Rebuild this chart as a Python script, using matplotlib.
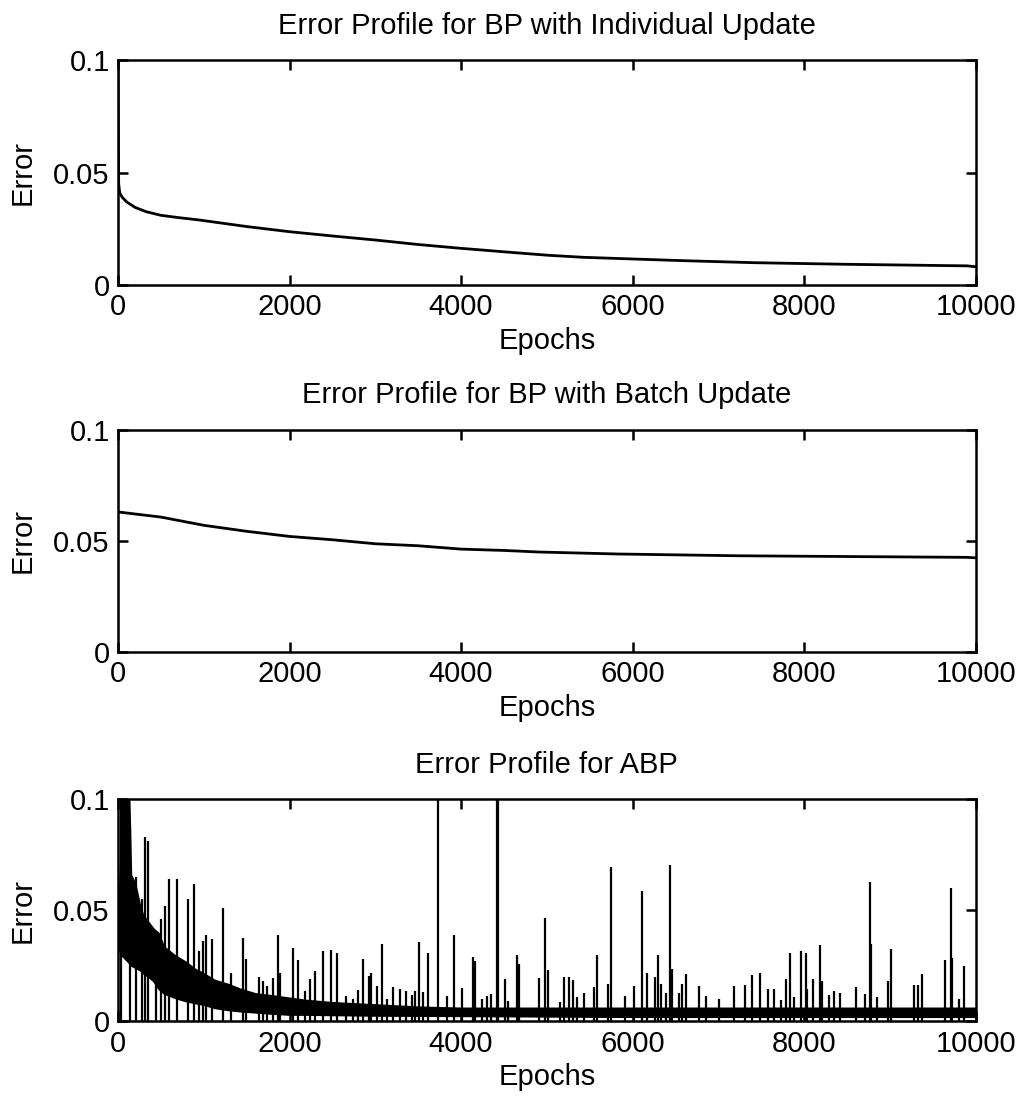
import numpy as np
import matplotlib
matplotlib.use('Agg')
import matplotlib.pyplot as plt
from matplotlib.ticker import FormatStrFormatter

plt.rcParams['font.family'] = ['Liberation Sans', 'DejaVu Sans']

#error curve of BP with individual update
ind_epochs = [0, 8, 20, 50, 100, 200, 330, 500, 700, 950, 1500, 2000, 2500, 3000,
              3500, 4000, 4650, 5020, 5430, 5970, 6600, 7430, 8490, 9900, 10000]
ind_error = [0.1, 0.045, 0.041, 0.039, 0.037, 0.0345, 0.0326, 0.031, 0.030, 0.0289,
             0.026, 0.0237, 0.0218, 0.020, 0.018, 0.0163, 0.0143, 0.0132, 0.0123,
             0.0116, 0.0108, 0.0099, 0.0092, 0.0085, 0.0081]

#error curve of BP with batch update
batch_epochs = [0, 500, 1000, 1500, 2000, 2500, 3000, 3500, 4000, 4500, 4900,
                5830, 7240, 9890, 10000]
batch_error = [0.063, 0.0607, 0.057, 0.0543, 0.052, 0.0505, 0.0487, 0.0478, 0.0463,
               0.0457, 0.045, 0.0441, 0.0433, 0.0426, 0.0424]

#ABP: dense noise band (lower and upper envelopes)
band_epochs = [0, 40, 140, 160, 210, 260, 300, 360, 420, 480, 540, 670, 800, 900,
               1000, 1130, 1300, 1430, 1600, 1815, 2000, 2200, 2500, 3000, 3500,
               4000, 5000, 6000, 7000, 8000, 9000, 10000]
band_low = [0.034, 0.030, 0.026, 0.025, 0.024, 0.023, 0.0215, 0.020, 0.018, 0.0145,
            0.0125, 0.0105, 0.009, 0.0082, 0.0075, 0.006, 0.005, 0.0045, 0.004,
            0.0034, 0.003, 0.003, 0.0028, 0.0026, 0.0025, 0.0024, 0.0022, 0.002,
            0.002, 0.002, 0.002, 0.002]
band_high = [0.052, 0.1, 0.1, 0.066, 0.062, 0.053, 0.048, 0.045, 0.042, 0.040,
             0.034, 0.030, 0.027, 0.024, 0.022, 0.019, 0.017, 0.015, 0.013, 0.012,
             0.011, 0.010, 0.009, 0.008, 0.007, 0.0065, 0.0065, 0.0065, 0.0065, 0.0065,
             0.0065, 0.0065]

#ABP: isolated spikes
spike_epochs = [5, 38, 145, 210, 275, 313, 355, 439, 504, 546, 600, 688, 814, 890,
                944, 986, 1031, 1096, 1230, 1318, 1452, 1490, 1643, 1688, 1738, 1803,
                1860, 1891, 2044, 2101, 2181, 2242, 2292, 2395, 2487, 2552, 2660, 2745,
                2795, 2853, 2930, 2949, 3014, 3076, 3141, 3207, 3288, 3353, 3422, 3461,
                3507, 3557, 3615, 3727, 3834, 3919, 4008, 4135, 4162, 4239, 4304, 4354,
                4420, 4430, 4512, 4547, 4654, 4681, 4914, 4984, 5011, 5157, 5195, 5261,
                5299, 5346, 5434, 5553, 5588, 5715, 5742, 5915, 6019, 6108, 6173, 6262,
                6300, 6331, 6385, 6435, 6454, 6539, 6570, 6620, 6770, 6858, 7012, 7186,
                7310, 7396, 7483, 7574, 7653, 7732, 7791, 7830, 7878, 7968, 8016, 8036,
                8107, 8185, 8213, 8284, 8343, 8422, 8608, 8710, 8765, 8777, 8848, 8974,
                9014, 9278, 9322, 9369, 9637, 9712, 9724, 9803, 9862]
spike_heights = [0.085, 0.1, 0.088, 0.065, 0.055, 0.083, 0.081, 0.040, 0.046, 0.052,
                 0.064, 0.064, 0.055, 0.062, 0.0315, 0.036, 0.039, 0.037, 0.051, 0.022,
                 0.0375, 0.028, 0.020, 0.018, 0.016, 0.0195, 0.039, 0.022, 0.033, 0.0275,
                 0.0135, 0.019, 0.0225, 0.0315, 0.032, 0.031, 0.0116, 0.010, 0.014, 0.028,
                 0.0206, 0.022, 0.016, 0.035, 0.010, 0.0154, 0.0146, 0.0139, 0.012, 0.0139,
                 0.0357, 0.0131, 0.031, 0.1, 0.0116, 0.039, 0.015, 0.029, 0.0274, 0.010,
                 0.0116, 0.0123, 0.1, 0.1, 0.019, 0.0093, 0.0297, 0.026, 0.0194, 0.0465,
                 0.023, 0.0086, 0.020, 0.020, 0.0187, 0.011, 0.0127, 0.0154, 0.030, 0.017,
                 0.0696, 0.0116, 0.016, 0.0586, 0.022, 0.020, 0.030, 0.017, 0.0127, 0.0703,
                 0.0236, 0.0127, 0.017, 0.0214, 0.016, 0.0116, 0.010, 0.016, 0.0164, 0.021,
                 0.0217, 0.0148, 0.0148, 0.0095, 0.019, 0.031, 0.011, 0.0318, 0.031, 0.0148,
                 0.019, 0.0345, 0.018, 0.012, 0.0138, 0.013, 0.0156, 0.0123, 0.0626, 0.035,
                 0.011, 0.018, 0.0327, 0.0164, 0.0164, 0.0214, 0.0277, 0.060, 0.0285,
                 0.0103, 0.025]

titles = ['Error Profile for BP with Individual Update',
          'Error Profile for BP with Batch Update',
          'Error Profile for ABP']

fig = plt.figure(figsize=(10.26, 10.96), dpi=100)
ax1 = fig.add_axes([0.115, 0.740, 0.836, 0.205])
ax2 = fig.add_axes([0.115, 0.405, 0.836, 0.203])
ax3 = fig.add_axes([0.115, 0.068, 0.836, 0.203])

ax1.plot(ind_epochs, ind_error, color='black', lw=2)
ax2.plot(batch_epochs, batch_error, color='black', lw=2)
ax3.fill_between(band_epochs, band_low, band_high, color='black', lw=0)
ax3.plot(band_epochs, band_low, color='black', lw=1.5)
ax3.vlines(spike_epochs, 0, spike_heights, color='black', lw=1.6)

for ax, title in zip([ax1, ax2, ax3], titles):
    ax.set_xlim(0, 10000)
    ax.set_ylim(0, 0.1)
    ax.set_xticks([0, 2000, 4000, 6000, 8000, 10000])
    ax.set_yticks([0, 0.05, 0.1])
    ax.yaxis.set_major_formatter(FormatStrFormatter('%g'))
    ax.tick_params(direction='in', top=True, right=True, length=7, width=1.8,
                   labelsize=21, pad=6)
    for s in ax.spines.values():
        s.set_linewidth(1.8)
    ax.set_title(title, fontsize=21, pad=19)
    ax.set_xlabel('Epochs', fontsize=21, labelpad=4)
    ax.set_ylabel('Error', fontsize=21, labelpad=12)

fig.savefig('out.png', dpi=100)
